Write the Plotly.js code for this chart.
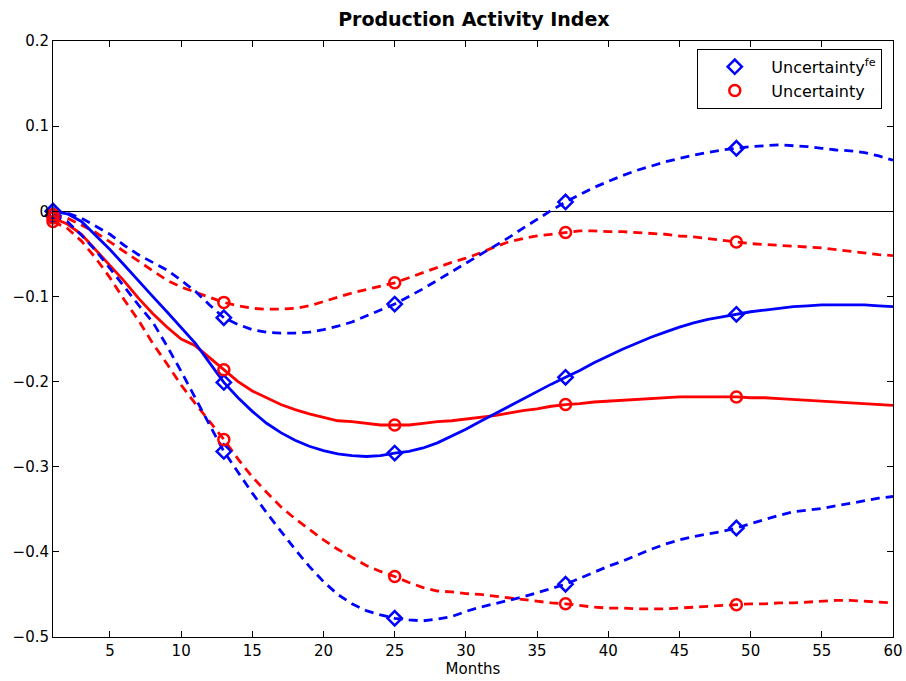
<!DOCTYPE html>
<html>
<head>
<meta charset="utf-8">
<script src="https://cdn.plot.ly/plotly-3.0.1.min.js"></script>
<style>html,body{margin:0;padding:0;background:#fff}#chart{width:906px;height:681px}</style>
</head>
<body>
<div id="chart"></div>
<script>
const months = Array.from({length: 60}, (_, i) => i + 1);
const markerMonths = [1, 13, 25, 37, 49];
const xTicks = [5, 10, 15, 20, 25, 30, 35, 40, 45, 50, 55, 60];

const feMedian = [0, -0.003, -0.012, -0.028, -0.045, -0.063, -0.082, -0.100, -0.118, -0.136, -0.155, -0.178, -0.201,
  -0.219, -0.235, -0.249, -0.260, -0.269, -0.276, -0.281, -0.285, -0.287, -0.288, -0.287, -0.284,
  -0.282, -0.278, -0.272, -0.264, -0.256, -0.247, -0.238, -0.229, -0.220, -0.212, -0.203, -0.195,
  -0.187, -0.178, -0.170, -0.162, -0.155, -0.148, -0.142, -0.136, -0.131, -0.127, -0.124, -0.121,
  -0.118, -0.116, -0.114, -0.112, -0.111, -0.110, -0.110, -0.110, -0.110, -0.111, -0.112];
const feUpper = [0, -0.002, -0.008, -0.017, -0.027, -0.040, -0.051, -0.060, -0.069, -0.081, -0.094, -0.110, -0.125,
  -0.133, -0.139, -0.142, -0.143, -0.143, -0.142, -0.139, -0.135, -0.130, -0.123, -0.116, -0.109,
  -0.100, -0.091, -0.081, -0.071, -0.062, -0.052, -0.042, -0.031, -0.020, -0.009, 0.001, 0.011,
  0.020, 0.028, 0.035, 0.042, 0.048, 0.053, 0.058, 0.062, 0.066, 0.069, 0.072, 0.074,
  0.076, 0.077, 0.078, 0.077, 0.076, 0.074, 0.072, 0.071, 0.069, 0.065, 0.060];
const feLower = [-0.005, -0.012, -0.028, -0.046, -0.067, -0.089, -0.110, -0.130, -0.158, -0.188, -0.220, -0.251, -0.282,
  -0.307, -0.331, -0.354, -0.376, -0.397, -0.417, -0.435, -0.450, -0.461, -0.469, -0.474, -0.478,
  -0.480, -0.481, -0.479, -0.476, -0.470, -0.465, -0.461, -0.457, -0.453, -0.448, -0.443, -0.438,
  -0.431, -0.424, -0.417, -0.411, -0.404, -0.397, -0.391, -0.386, -0.382, -0.379, -0.376, -0.372,
  -0.367, -0.362, -0.357, -0.353, -0.351, -0.349, -0.346, -0.343, -0.340, -0.337, -0.335];

const unMedian = [-0.008, -0.015, -0.027, -0.045, -0.063, -0.082, -0.102, -0.120, -0.136, -0.150, -0.158, -0.172, -0.186,
  -0.200, -0.211, -0.219, -0.227, -0.233, -0.238, -0.242, -0.246, -0.247, -0.249, -0.251, -0.251,
  -0.251, -0.249, -0.247, -0.246, -0.244, -0.242, -0.240, -0.237, -0.234, -0.232, -0.229, -0.227,
  -0.226, -0.224, -0.223, -0.222, -0.221, -0.220, -0.219, -0.218, -0.218, -0.218, -0.218, -0.218,
  -0.219, -0.219, -0.220, -0.221, -0.222, -0.223, -0.224, -0.225, -0.226, -0.227, -0.228];
const unUpper = [-0.004, -0.008, -0.016, -0.025, -0.036, -0.047, -0.058, -0.070, -0.081, -0.089, -0.095, -0.101, -0.107,
  -0.111, -0.114, -0.115, -0.115, -0.114, -0.111, -0.106, -0.101, -0.096, -0.092, -0.088, -0.084,
  -0.078, -0.072, -0.066, -0.060, -0.055, -0.049, -0.042, -0.036, -0.032, -0.029, -0.027, -0.025,
  -0.023, -0.023, -0.024, -0.024, -0.025, -0.026, -0.027, -0.029, -0.030, -0.032, -0.034, -0.036,
  -0.038, -0.039, -0.040, -0.041, -0.042, -0.043, -0.045, -0.047, -0.049, -0.051, -0.052];
const unLower = [-0.012, -0.020, -0.035, -0.055, -0.078, -0.104, -0.128, -0.155, -0.179, -0.204, -0.226, -0.247, -0.268,
  -0.291, -0.312, -0.330, -0.347, -0.361, -0.374, -0.386, -0.397, -0.407, -0.416, -0.423, -0.429,
  -0.436, -0.442, -0.446, -0.447, -0.449, -0.450, -0.452, -0.454, -0.456, -0.458, -0.460, -0.461,
  -0.463, -0.465, -0.466, -0.466, -0.467, -0.467, -0.467, -0.466, -0.465, -0.464, -0.463, -0.462,
  -0.461, -0.461, -0.460, -0.460, -0.459, -0.458, -0.457, -0.457, -0.458, -0.459, -0.460];

const BLUE = '#0000ff', RED = '#ff0000';
const pick = arr => markerMonths.map(m => arr[m - 1]);

function lineTrace(y, color, dash) {
  return {x: months, y: y, mode: 'lines', showlegend: false, hoverinfo: 'skip',
    line: {color: color, width: 2.8, dash: dash}};
}
function markTrace(y, color, symbol, name, legend) {
  return {x: markerMonths, y: pick(y), mode: 'markers', name: name, showlegend: legend,
    legendgroup: name, cliponaxis: false,
    marker: {symbol: symbol, size: 11, color: color, line: {color: color, width: 2.5}}};
}

const dashPat = '9px,6px';
const traces = [
  lineTrace(unUpper, RED, dashPat), lineTrace(unLower, RED, dashPat), lineTrace(unMedian, RED, 'solid'),
  lineTrace(feUpper, BLUE, dashPat), lineTrace(feLower, BLUE, dashPat), lineTrace(feMedian, BLUE, 'solid'),
  markTrace(feMedian, BLUE, 'diamond-open', 'Uncertainty<sup>fe</sup>', true),
  markTrace(feUpper, BLUE, 'diamond-open', 'Uncertainty<sup>fe</sup>', false),
  markTrace(feLower, BLUE, 'diamond-open', 'Uncertainty<sup>fe</sup>', false),
  markTrace(unMedian, RED, 'circle-open', 'Uncertainty', true),
  markTrace(unUpper, RED, 'circle-open', 'Uncertainty', false),
  markTrace(unLower, RED, 'circle-open', 'Uncertainty', false)
];

const layout = {
  width: 906, height: 681,
  margin: {l: 53, r: 13, t: 41, b: 44},
  paper_bgcolor: '#fff', plot_bgcolor: '#fff',
  font: {family: 'DejaVu Sans, Liberation Sans, Arial, sans-serif', size: 15, color: '#000'},
  title: {text: '<b>Production Activity Index</b>', x: 0.523, xanchor: 'center', y: 0.972, yanchor: 'middle',
    font: {size: 19, color: '#000'}},
  xaxis: {range: [1, 60], tickvals: xTicks, ticks: 'inside', ticklen: 6, tickwidth: 1, tickcolor: '#000',
    showline: true, linecolor: '#000', linewidth: 1, mirror: 'ticks', showgrid: false, zeroline: false,
    title: {text: 'Months', standoff: 2, font: {size: 15}}, tickfont: {size: 15}},
  yaxis: {range: [-0.5, 0.2], dtick: 0.1, tick0: 0, ticks: 'inside', ticklen: 6, tickwidth: 1, tickcolor: '#000',
    showline: true, linecolor: '#000', linewidth: 1, mirror: 'ticks', showgrid: false,
    zeroline: true, zerolinecolor: '#000', zerolinewidth: 1, tickfont: {size: 15}},
  legend: {x: 0.767, y: 0.987, xanchor: 'left', yanchor: 'top', bgcolor: '#fff', bordercolor: '#000',
    borderwidth: 1, font: {size: 16}, tracegroupgap: 0, itemwidth: 63},
  showlegend: true
};

Plotly.newPlot('chart', traces, layout, {displayModeBar: false, staticPlot: true});
</script>
</body>
</html>
